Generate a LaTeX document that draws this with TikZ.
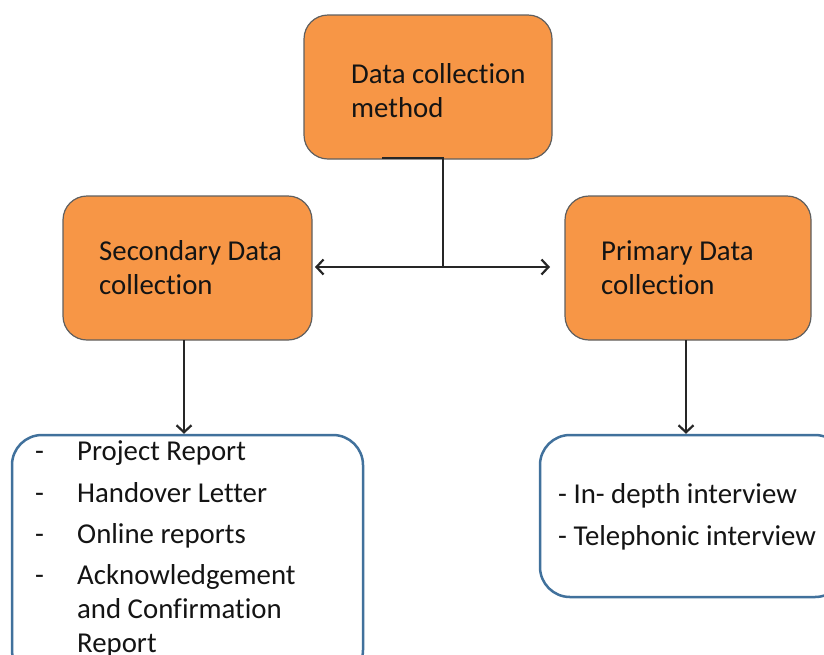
\documentclass[tikz,border=0pt]{standalone}
\usepackage{fontspec}
\setmainfont{Carlito}[Ligatures=NoCommon]
\usetikzlibrary{arrows.meta}
\definecolor{boxorange}{RGB}{247,150,70}
\definecolor{boxblue}{RGB}{65,113,156}
\definecolor{edgegray}{RGB}{95,95,95}
\definecolor{txt}{RGB}{20,20,20}
\begin{document}
\begin{tikzpicture}[x=1pt,y=-1pt,
  obox/.style={draw=edgegray,line width=1.2pt,fill=boxorange,rounded corners=24pt,inner sep=0pt},
  bbox/.style={draw=boxblue,line width=2.5pt,fill=white,rounded corners=30pt,inner sep=0pt},
  lbl/.style={anchor=base west,inner sep=0pt,text=txt,font=\fontsize{28.8}{34}\selectfont},
  conn/.style={line width=2.2pt,draw=black!85},
  tip/.style={-{Straight Barb[length=7pt,width=15pt,line width=2.2pt]}}]
\useasboundingbox (0,0) rectangle (824,654);
\clip (0,0) rectangle (824,654);
% boxes
\node[obox,minimum width=248pt,minimum height=144pt] (top) at (428,87) {};
\node[obox,minimum width=249pt,minimum height=144pt] (sec) at (187.5,268) {};
\node[obox,minimum width=246pt,minimum height=144pt] (pri) at (688,268) {};
\node[bbox,minimum width=351pt,minimum height=245pt] (lst) at (187.5,557.5) {};
\node[bbox,minimum width=305pt,minimum height=162pt] (rlst) at (692.5,516) {};
% labels
\node[lbl] (t1) at (351,83) {Data collection};
\node[lbl] (t2) at (351,117) {method};
\node[lbl] (s1) at (99,260) {Secondary Data};
\node[lbl] (s2) at (99,294) {collection};
\node[lbl] (p1) at (601,260) {Primary Data};
\node[lbl] (p2) at (601,294) {collection};
\node[lbl] (d1) at (35,460) {-};
\node[lbl] (l1) at (77,460) {Project Report};
\node[lbl] (d2) at (35,502) {-};
\node[lbl] (l2) at (77,502) {Handover Letter};
\node[lbl] (d3) at (35,543) {-};
\node[lbl] (l3) at (77,543) {Online reports};
\node[lbl] (d4) at (35,584) {-};
\node[lbl] (l4) at (77,584) {Acknowledgement};
\node[lbl] (l5) at (77,618) {and Confirmation};
\node[lbl] (l6) at (77,652) {Report};
\node[lbl] (r1) at (558,503) {- In- depth interview};
\node[lbl] (r2) at (558,545) {- Telephonic interview};
% connectors
\coordinate (tb) at (382,158);
\coordinate (j) at (443,267);
\coordinate (jl) at (315,267);
\coordinate (jr) at (550,267);
\draw[conn] (tb) -- (tb -| j) -- (j);
\draw[conn,tip] (j) -- (jl);
\draw[conn,tip] (j) -- (jr);
\coordinate (sa) at (184,340);
\coordinate (pa) at (686,340);
\draw[conn,tip] (sa) -- (sa |- lst.north);
\draw[conn,tip] (pa) -- (pa |- rlst.north);
\end{tikzpicture}
\end{document}
